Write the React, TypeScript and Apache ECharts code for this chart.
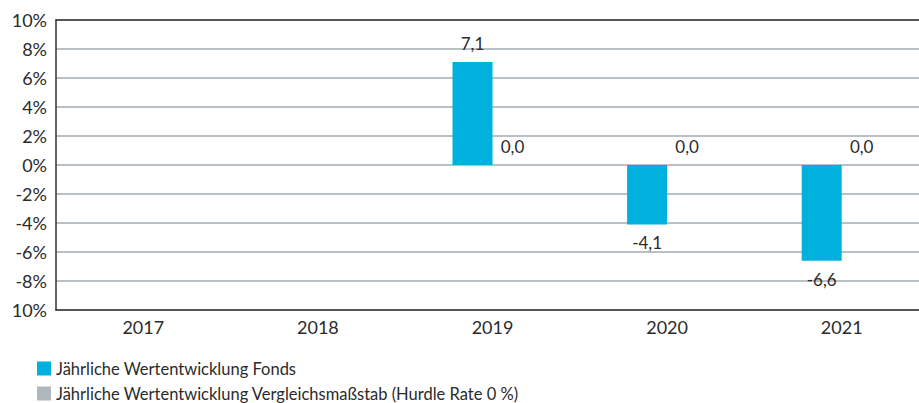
import React, { useEffect, useRef } from "react";
import * as echarts from "echarts";

const categories = ["2017", "2018", "2019", "2020", "2021"];
const fondsValues: (number | null)[] = [null, null, 7.1, -4.1, -6.6];
const hurdleValues: (number | null)[] = [null, null, 0, 0, 0];
const seriesNames = [
  "Jährliche Wertentwicklung Fonds",
  "Jährliche Wertentwicklung Vergleichsmaßstab (Hurdle Rate 0 %)",
];

const FONT = "Lato, 'Open Sans', sans-serif";
const fmt = (v: number) => v.toFixed(1).replace(".", ",");

export default function App() {
  const ref = useRef<HTMLDivElement>(null);
  useEffect(() => {
    if (!ref.current) return;
    const chart = echarts.init(ref.current, null, { renderer: "svg" });
    const mk = (vals: (number | null)[]) =>
      vals.map((v) =>
        v === null
          ? null
          : { value: v, label: { position: v < 0 ? "bottom" : "top" } }
      );
    const lbl = {
      show: true,
      fontFamily: FONT,
      fontSize: 17,
      color: "#2b2b2b",
      distance: 10,
      formatter: (p: any) => fmt(p.value),
    };
    chart.setOption({
      animation: false,
      textStyle: { fontFamily: FONT },
      grid: { left: 56, right: 0, top: 20, bottom: 93, containLabel: false },
      legend: {
        orient: "vertical",
        left: 32,
        top: 355,
        height: 200,
        itemWidth: 14,
        itemHeight: 14,
        itemGap: 8,
        icon: "rect",
        textStyle: { fontFamily: FONT, fontSize: 16.5, color: "#2b2b2b", lineHeight: 14 },
        data: seriesNames,
      },
      xAxis: [
        {
          type: "category",
          data: categories,
          position: "bottom",
          axisLine: { onZero: false, lineStyle: { color: "#333", width: 1.5 } },
          axisTick: { show: false },
          axisLabel: { fontFamily: FONT, fontSize: 18, color: "#2b2b2b", margin: 8 },
        },
        {
          type: "category",
          data: categories,
          position: "top",
          axisLine: { onZero: false, lineStyle: { color: "#333", width: 1.5 } },
          axisTick: { show: false },
          axisLabel: { show: false },
        },
      ],
      yAxis: {
        type: "value",
        min: -10,
        max: 10,
        interval: 2,
        axisLine: { show: true, lineStyle: { color: "#333", width: 1.5 } },
        axisTick: { show: false },
        splitLine: { lineStyle: { color: "#b9c0c6", width: 2 } },
        axisLabel: {
          fontFamily: FONT,
          fontSize: 18,
          color: "#2b2b2b",
          margin: 9,
          formatter: (v: number) => (v === -10 ? "10%" : v + "%"),
        },
      },
      series: [
        {
          name: seriesNames[0],
          type: "bar",
          data: mk(fondsValues),
          barWidth: 40,
          barGap: "0%",
          itemStyle: { color: "#00b1dd" },
          label: lbl,
        },
        {
          name: seriesNames[1],
          type: "bar",
          data: mk(hurdleValues),
          barWidth: 40,
          itemStyle: { color: "#b0b7be" },
          label: lbl,
        },
      ],
    });
    return () => chart.dispose();
  }, []);
  return (
    <div
      style={{ position: "fixed", left: 0, top: 0, width: 919, height: 403, overflow: "hidden", background: "#fff" }}
    >
      <div ref={ref} style={{ width: 929, height: 403 }} />
    </div>
  );
}
